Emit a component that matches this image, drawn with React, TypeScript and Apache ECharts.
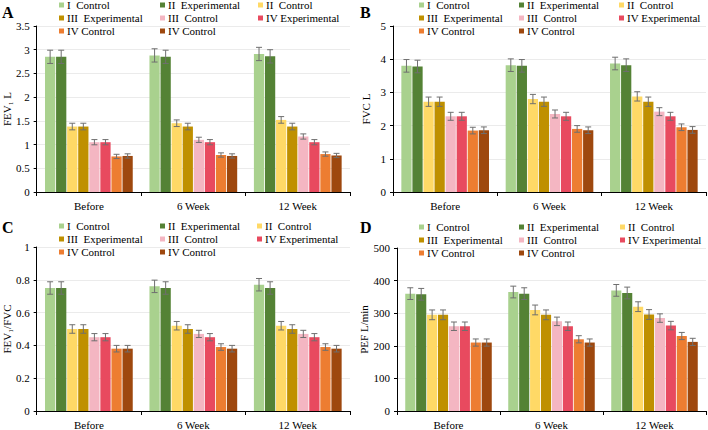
import React, { useEffect, useRef } from "react";
import * as echarts from "echarts";

const categories = ["Before", "6 Week", "12 Week"];
const seriesNames = [
  "I  Control",
  "II  Experimental",
  "II  Control",
  "III  Experimental",
  "III  Control",
  "IV Experimental",
  "IV Control",
  "IV Control ",
];
const colors = ["#a9d18e", "#548235", "#ffd966", "#bf9000", "#f4b6c2", "#e84a5f", "#ed7d31", "#9e480e"];

// rows: series, columns: Before, 6 Week, 12 Week
const fev1Values = [
  [2.85, 2.88, 2.91],
  [2.85, 2.85, 2.86],
  [1.38, 1.45, 1.52],
  [1.38, 1.38, 1.38],
  [1.05, 1.1, 1.17],
  [1.05, 1.05, 1.05],
  [0.75, 0.78, 0.8],
  [0.76, 0.76, 0.77],
];
const fev1Errors = [0.14, 0.14, 0.07, 0.07, 0.055, 0.055, 0.045, 0.045];

const fvcValues = [
  [3.8, 3.82, 3.87],
  [3.78, 3.8, 3.82],
  [2.72, 2.8, 2.88],
  [2.72, 2.72, 2.72],
  [2.28, 2.35, 2.42],
  [2.28, 2.28, 2.28],
  [1.85, 1.9, 1.95],
  [1.86, 1.86, 1.87],
];
const fvcErrors = [0.19, 0.19, 0.14, 0.14, 0.12, 0.12, 0.1, 0.1];

const ratioValues = [
  [0.75, 0.76, 0.77],
  [0.75, 0.75, 0.75],
  [0.5, 0.52, 0.52],
  [0.5, 0.5, 0.5],
  [0.45, 0.47, 0.47],
  [0.45, 0.45, 0.45],
  [0.38, 0.39, 0.39],
  [0.38, 0.38, 0.38],
];
const ratioErrors = [0.038, 0.038, 0.026, 0.026, 0.022, 0.022, 0.02, 0.02];

const pefValues = [
  [360, 365, 370],
  [358, 360, 362],
  [295, 310, 320],
  [295, 295, 296],
  [260, 275, 285],
  [260, 260, 262],
  [210, 220, 230],
  [210, 210, 212],
];
const pefErrors = [18, 18, 15, 15, 13, 13, 11, 11];

const yMax = [3.5, 5, 1, 500];
const yInterval = [0.5, 1, 0.2, 100];
const yNames = ["FEV\u2081 L", "FVC L", "FEV\u2081/FVC", "PEF L/min"];
const panelLetters = ["A", "B", "C", "D"];

const FONT = "Liberation Serif";
const CAT_GAP = 0.16;
const BAR_GAP = 0.08;

export default function App() {
  const ref = useRef<HTMLDivElement>(null);
  useEffect(() => {
    if (!ref.current) return;
    const chart = echarts.init(ref.current, undefined, { renderer: "svg" });
    const panels = [
      { values: fev1Values, errors: fev1Errors },
      { values: fvcValues, errors: fvcErrors },
      { values: ratioValues, errors: ratioErrors },
      { values: pefValues, errors: pefErrors },
    ];
    const grids = [
      { left: 33, right: 358, top: 26, bottom: 238 },
      { left: 393, right: 2, top: 26, bottom: 238 },
      { left: 33, right: 358, top: 247, bottom: 16 },
      { left: 397, right: 2, top: 248, bottom: 16 },
    ];
    const nameGaps = [22, 22, 24, 28];
    const legendCols = [
      [0, 3, 6],
      [1, 4, 7],
      [2, 5],
    ];
    const legendLefts = [
      [59, 160, 258],
      [419, 519, 619],
      [59, 160, 257],
      [419, 519, 620],
    ];
    const legendTops = [-1, -1, 220, 221];
    const txt = { color: "#000", fontFamily: FONT, fontSize: 11, fontWeight: "normal" as const };

    const xAxis: any[] = [];
    const yAxis: any[] = [];
    const series: any[] = [];
    const legend: any[] = [];
    const graphic: any[] = [];

    panels.forEach((p, gi) => {
      xAxis.push({
        type: "category",
        gridIndex: gi,
        data: categories,
        axisLine: { lineStyle: { color: "#000", width: 1 } },
        axisTick: { show: true, length: 4, lineStyle: { color: "#000" } },
        axisLabel: { ...txt, margin: 8 },
      });
      yAxis.push({
        type: "value",
        gridIndex: gi,
        min: 0,
        max: yMax[gi],
        interval: yInterval[gi],
        name: yNames[gi],
        nameLocation: "middle",
        nameGap: nameGaps[gi],
        nameTextStyle: { ...txt },
        axisLine: { show: true, lineStyle: { color: "#000", width: 1 } },
        axisTick: { show: true, length: 3, lineStyle: { color: "#000" } },
        axisLabel: { ...txt, margin: 7 },
        splitLine: { show: true, lineStyle: { color: "#ebebeb", width: 1 } },
      });
      p.values.forEach((vals, si) => {
        series.push({
          type: "bar",
          name: seriesNames[si],
          xAxisIndex: gi,
          yAxisIndex: gi,
          data: vals,
          itemStyle: { color: colors[si] },
          barCategoryGap: `${CAT_GAP * 100}%`,
          barGap: `${BAR_GAP * 100}%`,
          emphasis: { disabled: true },
        });
      });
      const errData: any[] = [];
      p.values.forEach((vals, si) => {
        vals.forEach((v, ci) => errData.push([ci, v, si, p.errors[si]]));
      });
      series.push({
        type: "custom",
        xAxisIndex: gi,
        yAxisIndex: gi,
        z: 10,
        data: errData,
        encode: { x: 0, y: 1 },
        renderItem: (params: any, api: any) => {
          const ci = api.value(0);
          const v = api.value(1);
          const si = api.value(2);
          const e = api.value(3);
          const bw = api.size([1, 0])[0];
          const n = 8;
          const w = (bw * (1 - CAT_GAP)) / (n + (n - 1) * BAR_GAP);
          const total = n * w + (n - 1) * BAR_GAP * w;
          const c = api.coord([ci, v]);
          const x = c[0] - total / 2 + si * w * (1 + BAR_GAP) + w / 2;
          const yTop = api.coord([ci, v + e])[1];
          const yBot = api.coord([ci, v - e])[1];
          const cap = 3;
          const style = { stroke: "#6f6f6f", lineWidth: 1 };
          return {
            type: "group",
            children: [
              { type: "line", shape: { x1: x, y1: yTop, x2: x, y2: yBot }, style },
              { type: "line", shape: { x1: x - cap, y1: yTop, x2: x + cap, y2: yTop }, style },
              { type: "line", shape: { x1: x - cap, y1: yBot, x2: x + cap, y2: yBot }, style },
            ],
          };
        },
      });
      legendCols.forEach((col, k) => {
        legend.push({
          orient: "vertical",
          left: legendLefts[gi][k],
          top: legendTops[gi],
          padding: 0,
          itemGap: 1,
          itemWidth: 5,
          itemHeight: 5,
          icon: "rect",
          selectedMode: false,
          data: col.map((i) => seriesNames[i]),
          textStyle: { ...txt, lineHeight: 12, padding: [0, 0, 0, -2] },
        });
      });
      graphic.push({
        type: "text",
        left: gi % 2 === 0 ? 2 : 360,
        top: gi < 2 ? 4 : 219,
        style: { text: panelLetters[gi], font: `bold 16px ${FONT}`, fill: "#000" },
      });
    });

    chart.setOption({
      animation: false,
      backgroundColor: "#fff",
      textStyle: { fontFamily: FONT },
      grid: grids.map((g) => ({ ...g, containLabel: false })),
      xAxis,
      yAxis,
      series,
      legend,
      graphic,
    });
    return () => chart.dispose();
  }, []);
  return <div ref={ref} style={{ position: "fixed", left: 0, top: 0, width: 708, height: 430 }} />;
}
